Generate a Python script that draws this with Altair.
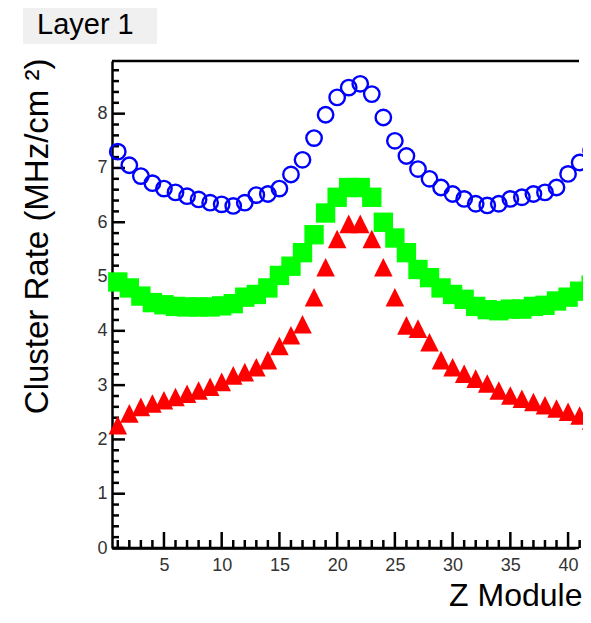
import altair as alt
import pandas as pd

# ---- data ----
modules = list(range(1, 43))
rate_circle = [7.30, 7.05, 6.85, 6.72, 6.62, 6.55, 6.48, 6.42, 6.36, 6.33,
               6.30, 6.36, 6.50, 6.52, 6.62, 6.88, 7.15, 7.55, 7.98, 8.30,
               8.48, 8.55, 8.36, 7.93, 7.50, 7.22, 6.98, 6.80, 6.64, 6.52,
               6.43, 6.34, 6.31, 6.34, 6.43, 6.46, 6.52, 6.55, 6.64, 6.89,
               7.10, 7.32]
rate_square = [4.90, 4.79, 4.64, 4.52, 4.48, 4.45, 4.44, 4.44, 4.44, 4.46,
               4.50, 4.62, 4.67, 4.79, 5.02, 5.19, 5.44, 5.77, 6.17, 6.46,
               6.64, 6.64, 6.46, 6.00, 5.71, 5.44, 5.13, 4.98, 4.79, 4.67,
               4.58, 4.45, 4.39, 4.37, 4.40, 4.40, 4.45, 4.47, 4.55, 4.62,
               4.73, 4.84]
rate_triangle = [2.26, 2.48, 2.60, 2.66, 2.72, 2.78, 2.84, 2.90, 2.97, 3.06,
                 3.18, 3.24, 3.33, 3.46, 3.72, 3.92, 4.12, 4.62, 5.17, 5.69,
                 5.97, 5.97, 5.69, 5.17, 4.62, 4.10, 4.04, 3.79, 3.46, 3.33,
                 3.21, 3.12, 3.03, 2.90, 2.81, 2.75, 2.69, 2.63, 2.57, 2.51,
                 2.44, 2.35]

x_label_values = [5, 10, 15, 20, 25, 30, 35, 40]
x_minor_values = [1, 2, 3, 4, 6, 7, 8, 9, 11, 12, 13, 14, 16, 17, 18, 19, 21, 22,
                  23, 24, 26, 27, 28, 29, 31, 32, 33, 34, 36, 37, 38, 39, 41]
y_label_values = [0, 1, 2, 3, 4, 5, 6, 7, 8]
y_minor_values = [0.2, 0.4, 0.6, 0.8, 1.2, 1.4, 1.6, 1.8, 2.2, 2.4, 2.6, 2.8,
                  3.2, 3.4, 3.6, 3.8, 4.2, 4.4, 4.6, 4.8, 5.2, 5.4, 5.6, 5.8,
                  6.2, 6.4, 6.6, 6.8, 7.2, 7.4, 7.6, 7.8, 8.2, 8.4, 8.6, 8.8]

W, H = 463, 487
PAD_R = 8
FONT = "Liberation Sans"

xscale = alt.Scale(domain=[0.5, 40.6], nice=False, zero=False)
yscale = alt.Scale(domain=[0, 8.97], nice=False, zero=False)

x_axis = alt.Axis(values=x_label_values, ticks=False, tickSize=0, grid=False,
                  domainColor="black", domainWidth=2.5,
                  labelFont=FONT, labelFontSize=18, labelColor="#333333",
                  labelPadding=8,
                  title="Z Module", titleFont=FONT, titleFontSize=32,
                  titleFontWeight="normal", titleColor="black",
                  titleX=W + PAD_R - 1, titleY=57, titleAlign="right",
                  titleBaseline="alphabetic")
y_axis = alt.Axis(values=y_label_values, ticks=False, tickSize=0, grid=False,
                  domainColor="black", domainWidth=2.5,
                  labelFont=FONT, labelFontSize=18, labelColor="#333333",
                  labelPadding=5,
                  title="Cluster Rate (MHz/cm ²)", titleFont=FONT,
                  titleFontSize=33, titleFontWeight="normal",
                  titleColor="black", titleAngle=270,
                  titleX=-65, titleY=-3, titleAlign="right",
                  titleBaseline="alphabetic")

df = pd.DataFrame({"module": modules, "circle": rate_circle,
                   "square": rate_square, "triangle": rate_triangle})

X = alt.X("module:Q", scale=xscale, axis=x_axis)

circles = alt.Chart(df).mark_point(
    shape="circle", filled=False, size=238, strokeWidth=2.4,
    color="#0000ff", opacity=1
).encode(x=X, y=alt.Y("circle:Q", scale=yscale, axis=y_axis))

squares = alt.Chart(df).mark_point(
    shape="square", filled=True, size=375, color="#00ff00", opacity=1
).encode(x=X, y=alt.Y("square:Q", scale=yscale, axis=y_axis))

triangles = alt.Chart(df).mark_point(
    shape="M0,-1L1,1L-1,1Z", filled=True, size=345, color="#ff0000", opacity=1
).encode(x=X, y=alt.Y("triangle:Q", scale=yscale, axis=y_axis))

ymaj = alt.Chart(pd.DataFrame({"v": y_label_values})).mark_rule(
    color="black", strokeWidth=2.5
).encode(y=alt.Y("v:Q", scale=yscale, axis=y_axis),
         x=alt.value(0), x2=alt.value(13))
ymin = alt.Chart(pd.DataFrame({"v": y_minor_values})).mark_rule(
    color="black", strokeWidth=2.5
).encode(y=alt.Y("v:Q", scale=yscale, axis=y_axis),
         x=alt.value(0), x2=alt.value(7))
xmaj = alt.Chart(pd.DataFrame({"v": x_label_values})).mark_rule(
    color="black", strokeWidth=2.5
).encode(x=alt.X("v:Q", scale=xscale, axis=x_axis),
         y=alt.value(H), y2=alt.value(H - 16))
xmin = alt.Chart(pd.DataFrame({"v": x_minor_values})).mark_rule(
    color="black", strokeWidth=2.5
).encode(x=alt.X("v:Q", scale=xscale, axis=x_axis),
         y=alt.value(H), y2=alt.value(H - 8))

top_frame = alt.Chart(pd.DataFrame({"a": [0]})).mark_rule(
    color="black", strokeWidth=2.5
).encode(x=alt.value(0), x2=alt.value(W + 4), y=alt.value(0))
bottom_ext = alt.Chart(pd.DataFrame({"a": [0]})).mark_rule(
    color="black", strokeWidth=2.5
).encode(x=alt.value(0), x2=alt.value(W + 4), y=alt.value(H))

label_box = alt.Chart(pd.DataFrame({"a": [0]})).mark_rect(
    color="#f0f0f0"
).encode(x=alt.value(-89), x2=alt.value(45), y=alt.value(-70), y2=alt.value(-17))
label_text = alt.Chart(pd.DataFrame({"t": ["Layer 1"]})).mark_text(
    align="left", baseline="alphabetic", font=FONT, fontSize=29, color="black"
).encode(x=alt.value(-75), y=alt.value(-27), text="t:N")

chart = alt.layer(
    label_box, label_text, ymin, ymaj, xmin, xmaj, top_frame, bottom_ext,
    circles, squares, triangles
).properties(
    width=W, height=H,
    autosize=alt.AutoSizeParams(type="none"),
    padding={"left": 104, "top": 53, "right": PAD_R, "bottom": 64},
    background="white"
).configure_view(stroke="transparent", strokeWidth=0)

chart.save("out.html", embed_options={"renderer": "svg", "actions": False})
